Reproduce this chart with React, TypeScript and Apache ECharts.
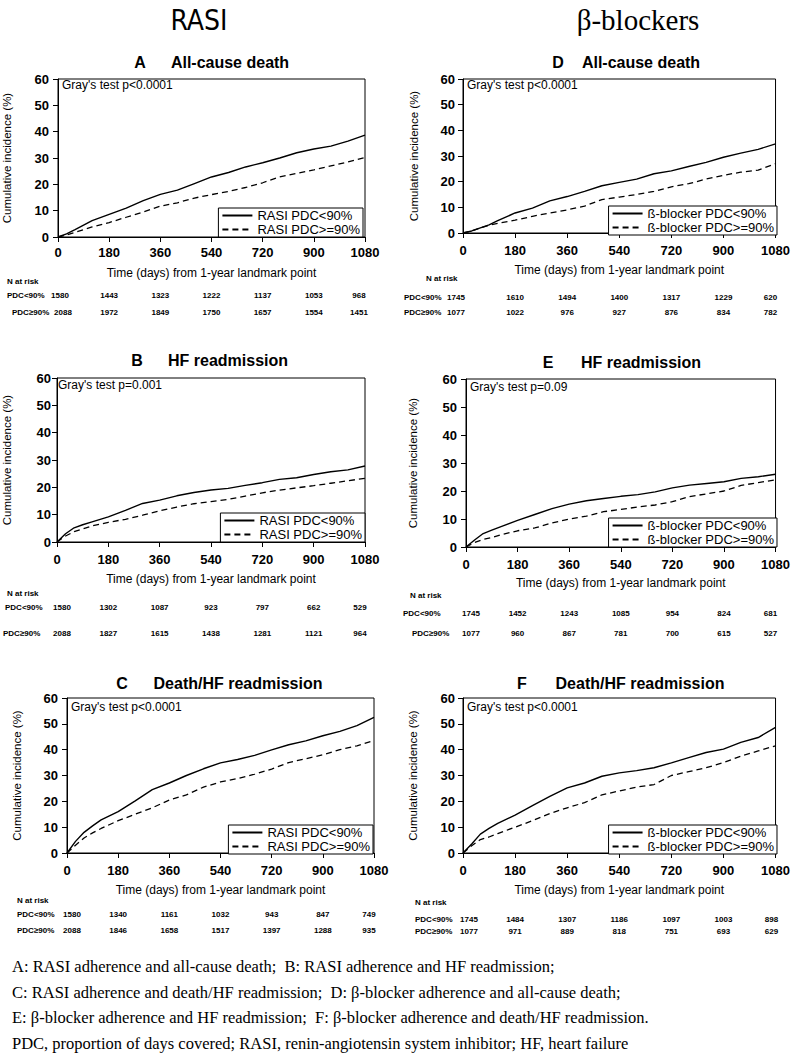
import React, { useEffect, useRef } from "react";
import * as echarts from "echarts";

const FONT = "'Liberation Sans', Arial, sans-serif";
const SERIF = "'Liberation Serif', 'Times New Roman', serif";

const DAYS = [0, 30, 60, 90, 120, 180, 240, 300, 360, 420, 480, 540, 600, 660, 720, 780, 840, 900, 960, 1020, 1080];
const RISK_DAYS = [0, 180, 360, 540, 720, 900, 1080];

// cumulative incidence (%)
const A_LOW = [0, 1.2, 2.8, 4.5, 6.2, 8.6, 11.0, 13.8, 16.2, 17.8, 20.3, 22.8, 24.5, 26.6, 28.2, 30.0, 32.0, 33.4, 34.5, 36.4, 38.7];
const A_HIGH = [0, 0.8, 1.8, 2.8, 3.8, 5.5, 7.5, 9.5, 11.7, 13.0, 14.8, 16.1, 17.3, 18.8, 20.6, 22.8, 24.2, 25.5, 27.0, 28.5, 30.2];
const B_LOW = [0, 3.0, 5.2, 6.3, 7.3, 9.2, 11.6, 14.1, 15.3, 16.9, 18.1, 19.0, 19.6, 20.7, 21.7, 22.9, 23.5, 24.7, 25.7, 26.4, 27.8];
const B_HIGH = [0, 2.2, 3.8, 4.8, 5.8, 7.2, 8.3, 9.8, 11.4, 12.8, 14.0, 14.8, 15.6, 16.8, 18.0, 19.0, 19.8, 20.6, 21.5, 22.4, 23.3];
const C_LOW = [0, 4.5, 8.0, 10.5, 12.8, 16.0, 20.2, 24.5, 27.1, 30.0, 32.6, 34.9, 36.2, 37.8, 39.9, 41.9, 43.4, 45.4, 47.1, 49.3, 52.5];
const C_HIGH = [0, 3.0, 5.8, 7.8, 9.5, 12.5, 15.0, 17.5, 20.5, 22.5, 25.5, 27.5, 28.8, 30.5, 32.5, 35.0, 36.5, 38.0, 40.0, 41.5, 43.5];
const D_LOW = [0, 0.8, 2.0, 3.2, 4.8, 7.8, 9.7, 12.5, 14.2, 16.2, 18.4, 19.7, 21.0, 23.1, 24.2, 25.9, 27.5, 29.5, 31.1, 32.6, 34.7];
const D_HIGH = [0, 0.8, 2.0, 3.0, 3.8, 5.0, 6.5, 7.8, 9.0, 10.5, 13.0, 14.0, 15.0, 16.2, 18.0, 19.2, 21.0, 22.5, 23.7, 24.5, 27.0];
const E_LOW = [0, 2.5, 4.8, 6.0, 7.2, 9.5, 11.6, 13.7, 15.3, 16.5, 17.3, 18.1, 18.7, 19.7, 21.1, 22.1, 22.7, 23.3, 24.5, 25.1, 26.0];
const E_HIGH = [0, 1.6, 2.7, 3.4, 4.3, 5.8, 6.8, 8.6, 10.0, 11.0, 12.6, 13.4, 14.3, 15.0, 16.2, 18.0, 19.0, 20.0, 22.0, 23.0, 24.0];
const F_LOW = [0, 3.5, 7.3, 9.5, 11.5, 14.7, 18.3, 21.9, 25.2, 27.1, 29.7, 31.0, 31.9, 33.0, 34.9, 36.9, 38.9, 40.2, 42.8, 44.7, 48.6];
const F_HIGH = [0, 2.8, 5.2, 6.2, 7.5, 10.0, 12.5, 15.3, 17.5, 19.5, 22.5, 24.0, 25.5, 26.5, 30.0, 31.5, 33.0, 35.0, 37.5, 39.5, 41.5];

// numbers at risk
const RISK_A_LOW = [1580, 1443, 1323, 1222, 1137, 1053, 968];
const RISK_A_HIGH = [2088, 1972, 1849, 1750, 1657, 1554, 1451];
const RISK_B_LOW = [1580, 1302, 1087, 923, 797, 662, 529];
const RISK_B_HIGH = [2088, 1827, 1615, 1438, 1281, 1121, 964];
const RISK_C_LOW = [1580, 1340, 1161, 1032, 943, 847, 749];
const RISK_C_HIGH = [2088, 1846, 1658, 1517, 1397, 1288, 935];
const RISK_D_LOW = [1745, 1610, 1494, 1400, 1317, 1229, 620];
const RISK_D_HIGH = [1077, 1022, 976, 927, 876, 834, 782];
const RISK_E_LOW = [1745, 1452, 1243, 1085, 954, 824, 681];
const RISK_E_HIGH = [1077, 960, 867, 781, 700, 615, 527];
const RISK_F_LOW = [1745, 1484, 1307, 1186, 1097, 1003, 898];
const RISK_F_HIGH = [1077, 971, 889, 818, 751, 693, 629];

const RASI_NAMES = ["RASI PDC<90%", "RASI PDC>=90%"];
const BB_NAMES = ["ß-blocker PDC<90%", "ß-blocker PDC>=90%"];
const X_NAME = "Time (days) from 1-year landmark point";
const Y_NAME = "Cumulative incidence (%)";
const ROW_LABELS = ["PDC<90%", "PDC≥90%"];

const CAPTION = [
  "A: RASI adherence and all-cause death;  B: RASI adherence and HF readmission;",
  "C: RASI adherence and death/HF readmission;  D: β-blocker adherence and all-cause death;",
  "E: β-blocker adherence and HF readmission;  F: β-blocker adherence and death/HF readmission.",
  "PDC, proportion of days covered; RASI, renin-angiotensin system inhibitor; HF, heart failure",
];

const PANELS = [
  {
    letter: "A", title: "All-cause death", gray: "Gray's test p<0.0001", names: RASI_NAMES,
    low: A_LOW, high: A_HIGH, riskLow: RISK_A_LOW, riskHigh: RISK_A_HIGH,
    grid: { left: 58, top: 79, width: 307, height: 158 },
    letterX: 140, titleX: 230, titleY: 62, grayY: 85,
    yNameGap: 45, yLabelMargin: 9, xLabelMargin: 9, xNameGap: 30,
    legendRight: 363, legendTop: 208,
    riskX: [7, 7, 12], riskY: [281, 295, 312], firstShift: [2, 5], lastShift: -6,
  },
  {
    letter: "B", title: "HF readmission", gray: "Gray's test p=0.001", names: RASI_NAMES,
    low: B_LOW, high: B_HIGH, riskLow: RISK_B_LOW, riskHigh: RISK_B_HIGH,
    grid: { left: 54, top: 378, width: 311, height: 164 },
    letterX: 137, titleX: 228, titleY: 360, grayY: 385,
    yNameGap: 44, yLabelMargin: 6, xLabelMargin: 11, xNameGap: 31,
    legendRight: 365, legendTop: 513,
    riskX: [7, 5, 3], riskY: [593, 607, 633], firstShift: [5, 5], lastShift: -5,
  },
  {
    letter: "C", title: "Death/HF readmission", gray: "Gray's test p<0.0001", names: RASI_NAMES,
    low: C_LOW, high: C_HIGH, riskLow: RISK_C_LOW, riskHigh: RISK_C_HIGH,
    grid: { left: 67, top: 698, width: 307, height: 155 },
    letterX: 122, titleX: 238, titleY: 683, grayY: 707,
    yNameGap: 44, yLabelMargin: 9, xLabelMargin: 11, xNameGap: 31,
    legendRight: 373, legendTop: 825,
    riskX: [17, 17, 17], riskY: [900, 914, 930], firstShift: [5, 5], lastShift: -5,
  },
  {
    letter: "D", title: "All-cause death", gray: "Gray's test p<0.0001", names: BB_NAMES,
    low: D_LOW, high: D_HIGH, riskLow: RISK_D_LOW, riskHigh: RISK_D_HIGH,
    grid: { left: 463, top: 79, width: 315, height: 154 },
    letterX: 558, titleX: 641, titleY: 62, grayY: 85,
    yNameGap: 43, yLabelMargin: 8, xLabelMargin: 11, xNameGap: 31,
    legendRight: 777, legendTop: 206,
    riskX: [426, 404, 404], riskY: [278, 297, 312], firstShift: [-7, -7], lastShift: -5,
  },
  {
    letter: "E", title: "HF readmission", gray: "Gray's test p=0.09", names: BB_NAMES,
    low: E_LOW, high: E_HIGH, riskLow: RISK_E_LOW, riskHigh: RISK_E_HIGH,
    grid: { left: 466, top: 379, width: 313, height: 168 },
    letterX: 548, titleX: 641, titleY: 362, grayY: 387,
    yNameGap: 47, yLabelMargin: 9, xLabelMargin: 11, xNameGap: 30,
    legendRight: 777, legendTop: 518,
    riskX: [410, 403, 412], riskY: [595, 613, 633], firstShift: [5, 5], lastShift: -5,
  },
  {
    letter: "F", title: "Death/HF readmission", gray: "Gray's test p<0.0001", names: BB_NAMES,
    low: F_LOW, high: F_HIGH, riskLow: RISK_F_LOW, riskHigh: RISK_F_HIGH,
    grid: { left: 463, top: 698, width: 316, height: 155 },
    letterX: 522, titleX: 640, titleY: 683, grayY: 707,
    yNameGap: 44, yLabelMargin: 8, xLabelMargin: 11, xNameGap: 31,
    legendRight: 777, legendTop: 825,
    riskX: [415, 415, 415], riskY: [902, 919, 931], firstShift: [6, 6], lastShift: -4,
  },
];

function txt(x: number, y: number, s: string, font: string, align = "left") {
  return {
    type: "text",
    x,
    y,
    silent: true,
    style: {
      text: s,
      font,
      fill: "#000",
      textAlign: align,
      textVerticalAlign: "middle",
      align,
      verticalAlign: "middle",
    },
  };
}

export default function App() {
  const ref = useRef<HTMLDivElement>(null);

  useEffect(() => {
    const el = ref.current!;
    const chart = echarts.init(el, null, { renderer: "svg" });
    const grids: any[] = [];
    const xAxes: any[] = [];
    const yAxes: any[] = [];
    const series: any[] = [];
    const legends: any[] = [];

    PANELS.forEach((p, i) => {
      grids.push({
        left: p.grid.left, top: p.grid.top, width: p.grid.width, height: p.grid.height,
        show: true, borderColor: "#000", borderWidth: 1, backgroundColor: "transparent",
      });
      xAxes.push({
        type: "value", gridIndex: i, min: 0, max: 1080, interval: 180,
        axisLine: { show: true, onZero: false, lineStyle: { color: "#000", width: 1 } },
        axisTick: { show: true, length: 5, lineStyle: { color: "#000", width: 1 } },
        axisLabel: {
          color: "#000", fontFamily: FONT, fontWeight: "bold", fontSize: 13, margin: p.xLabelMargin,
          formatter: (v: number) => String(v),
        },
        splitLine: { show: false },
        name: X_NAME, nameLocation: "middle", nameGap: p.xNameGap,
        nameTextStyle: { color: "#000", fontFamily: FONT, fontSize: 12 },
      });
      yAxes.push({
        type: "value", gridIndex: i, min: 0, max: 60, interval: 10,
        axisLine: { show: true, onZero: false, lineStyle: { color: "#000", width: 1 } },
        axisTick: { show: true, length: 5, lineStyle: { color: "#000", width: 1 } },
        axisLabel: {
          color: "#000", fontFamily: FONT, fontWeight: "bold", fontSize: 13, margin: p.yLabelMargin,
          formatter: (v: number) => String(v),
        },
        splitLine: { show: false },
        name: Y_NAME, nameLocation: "middle", nameGap: p.yNameGap,
        nameTextStyle: { color: "#000", fontFamily: FONT, fontSize: 11.5 },
      });
      series.push({
        type: "line", name: p.names[0], xAxisIndex: i, yAxisIndex: i,
        data: DAYS.map((d, k) => [d, p.low[k]]),
        symbol: "none", silent: true,
        lineStyle: { color: "#000", width: 1.4, type: "solid" },
        itemStyle: { color: "#000" },
      });
      series.push({
        type: "line", name: p.names[1], xAxisIndex: i, yAxisIndex: i,
        data: DAYS.map((d, k) => [d, p.high[k]]),
        symbol: "none", silent: true,
        lineStyle: { color: "#000", width: 1.3, type: [6, 4] },
        itemStyle: { color: "#000" },
      });
      legends.push({
        show: true, orient: "vertical", right: 793 - p.legendRight, top: p.legendTop,
        data: p.names, selectedMode: false, itemWidth: 30, itemHeight: 10, itemGap: 1,
        itemTextGap: 5, padding: [1, 3, 1, 3], borderColor: "#000", borderWidth: 1,
        backgroundColor: "#fff", align: "left",
        itemStyle: { color: "rgba(0,0,0,0)", borderColor: "rgba(0,0,0,0)", borderWidth: 0, opacity: 0 },
        lineStyle: { color: "#000" },
        textStyle: { color: "#000", fontFamily: FONT, fontSize: 13, lineHeight: 13 },
      });
    });

    chart.setOption({
      animation: false,
      backgroundColor: "#fff",
      grid: grids,
      xAxis: xAxes,
      yAxis: yAxes,
      series,
      legend: legends,
    });

    const elements: any[] = [];
    elements.push(txt(199, 20, "RASI", `28px 'Liberation Sans Narrow', 'DejaVu Sans Condensed', sans-serif`, "center"));
    elements.push(txt(638, 20, "β-blockers", `29px ${SERIF}`, "center"));

    PANELS.forEach((p, i) => {
      elements.push(txt(p.letterX, p.titleY, p.letter, `bold 16px ${FONT}`, "center"));
      elements.push(txt(p.titleX, p.titleY, p.title, `bold 16px ${FONT}`, "center"));
      elements.push(txt(p.grid.left + 4, p.grayY, p.gray, `12px ${FONT}`, "left"));
      const tf = `bold 8px ${FONT}`;
      elements.push(txt(p.riskX[0], p.riskY[0], "N at risk", tf, "left"));
      elements.push(txt(p.riskX[1], p.riskY[1], ROW_LABELS[0], tf, "left"));
      elements.push(txt(p.riskX[2], p.riskY[2], ROW_LABELS[1], tf, "left"));
      RISK_DAYS.forEach((d, k) => {
        const px = chart.convertToPixel({ xAxisIndex: i } as any, d) as number;
        const last = k === RISK_DAYS.length - 1;
        const s1 = k === 0 ? p.firstShift[0] : last ? p.lastShift : 0;
        const s2 = k === 0 ? p.firstShift[1] : last ? p.lastShift : 0;
        elements.push(txt(px + s1, p.riskY[1], String(p.riskLow[k]), tf, "center"));
        elements.push(txt(px + s2, p.riskY[2], String(p.riskHigh[k]), tf, "center"));
      });
    });

    const capY = [966, 992, 1017, 1043];
    CAPTION.forEach((line, k) => {
      elements.push(txt(12, capY[k], line, `16.5px ${SERIF}`, "left"));
    });

    chart.setOption({ graphic: { elements } });

    return () => chart.dispose();
  }, []);

  return (
    <div
      ref={ref}
      style={{ position: "absolute", left: 0, top: 0, width: 793, height: 1053, background: "#fff" }}
    />
  );
}
